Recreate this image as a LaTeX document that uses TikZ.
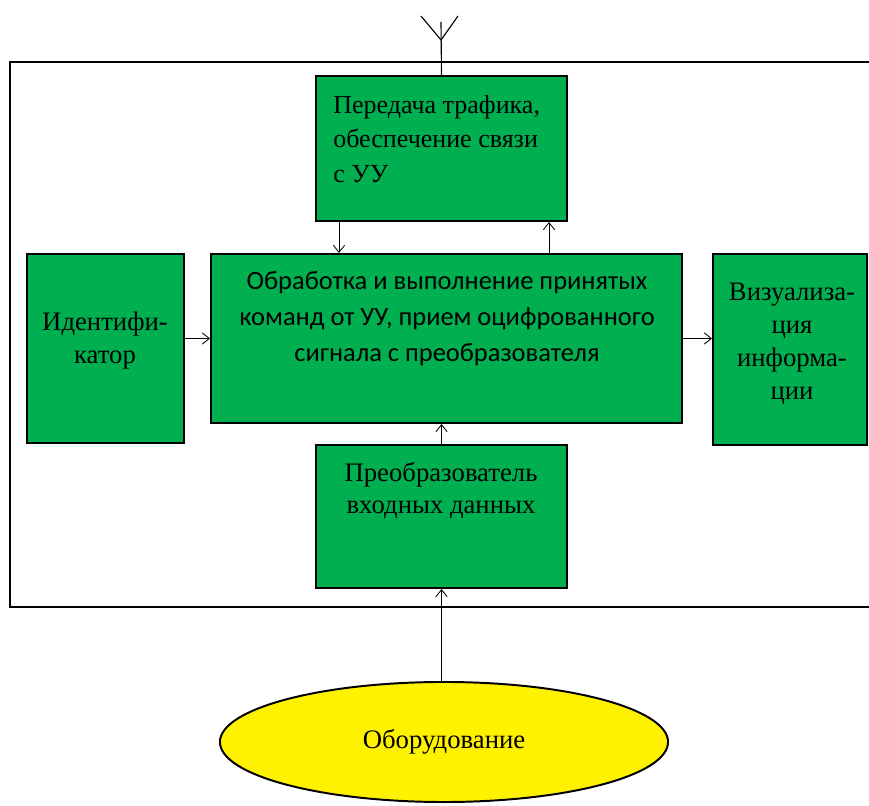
\documentclass[tikz,border=0pt]{standalone}
\usepackage{fontspec}
\setmainfont{Liberation Serif}
\newfontfamily\calibfont{Carlito}
\usetikzlibrary{shapes.geometric,arrows.meta}
\definecolor{blokgreen}{RGB}{0,176,80}
\begin{document}
\begin{tikzpicture}[x=0.025cm, y=-0.025cm,
    blok/.style={draw, line width=1.4pt, fill=blokgreen, inner sep=0pt},
    arr/.style={line width=0.6pt, -{Straight Barb[length=5pt, width=8pt]}},
    txt/.style={inner sep=0pt, font=\fontsize{19}{24}\selectfont}]
    \useasboundingbox (0,0) rectangle (869,806);

    % outer frame, open to the right
    \draw[line width=1.4pt] (869,62) -- (10,62) -- (10,607) -- (869,607);

    % blocks
    \node[blok, minimum width=6.275cm, minimum height=3.625cm] (peredacha) at (441.5,148.5) {};
    \node[blok, minimum width=11.775cm, minimum height=4.225cm] (obrabotka) at (446.5,338.5) {};
    \node[blok, minimum width=3.925cm, minimum height=4.725cm] (ident) at (105.5,348.5) {};
    \node[blok, minimum width=3.85cm, minimum height=4.775cm] (viz) at (790,349.5) {};
    \node[blok, minimum width=6.275cm, minimum height=3.575cm] (preobr) at (441.5,516.5) {};
    \node[ellipse, draw, line width=1.4pt, fill=yellow, minimum width=11.2cm, minimum height=3cm,
          font=\fontsize{19}{24}\selectfont] (oborud) at (444,742) {Оборудование};

    % texts
    \node[txt, anchor=north west, align=left, font=\fontsize{18.5}{24.5}\selectfont] at (333,95)
        {Передача трафика,\\обеспечение связи\\с УУ};
    \node[txt, anchor=north, align=center, font=\calibfont\fontsize{18.8}{25.8}\selectfont] at (447,271)
        {Обработка и выполнение принятых\\команд от УУ, прием оцифрованного\\сигнала с преобразователя};
    \node[txt, anchor=north, align=center, font=\fontsize{19}{23.5}\selectfont] at (105,312) {Идентифи-\\катор};
    \node[txt, anchor=north, align=center, font=\fontsize{19}{23.5}\selectfont] at (792,283)
        {Визуализа-\\ция\\информа-\\ции};
    \node[txt, anchor=north, align=center, font=\fontsize{19}{23}\selectfont] at (441,462)
        {Преобразователь\\входных данных};

    % antenna
    \coordinate (ant) at (441,40);
    \draw[line width=0.8pt] (peredacha.north) -- (441,22);
    \draw[line width=0.8pt] (421,16) -- (ant) -- (458,16);

    % connectors
    \coordinate (p1) at ([xshift=0.6cm]peredacha.south west);
    \coordinate (p2) at ([xshift=-0.475cm]peredacha.south east);
    \draw[arr] (p1) -- (p1 |- obrabotka.north);
    \draw[arr] (p2 |- obrabotka.north) -- (p2);
    \draw[arr] (ident.east |- obrabotka.west) -- (obrabotka.west);
    \draw[arr] (obrabotka.east) -- (obrabotka.east -| viz.west);
    \draw[arr] (preobr.north) -- (preobr.north |- obrabotka.south);
    \draw[arr] (preobr.south |- oborud.north) -- (preobr.south);
  \end{tikzpicture}
\end{document}
